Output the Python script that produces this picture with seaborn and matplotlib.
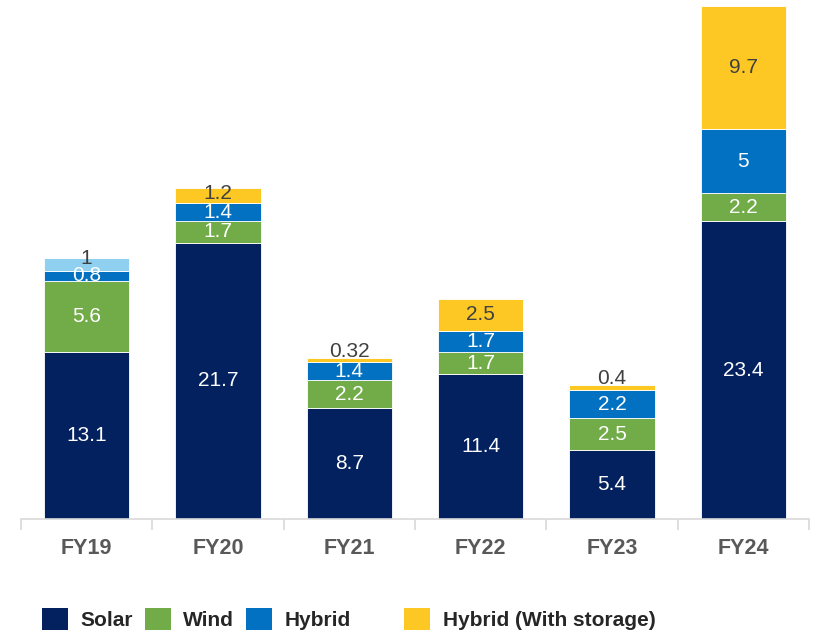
import numpy as np
import pandas as pd
import matplotlib
matplotlib.use("Agg")
import matplotlib.pyplot as plt
from matplotlib.patches import Patch
import seaborn as sns

years = ["FY19", "FY20", "FY21", "FY22", "FY23", "FY24"]
solar = [13.1, 21.7, 8.7, 11.4, 5.4, 23.4]
wind = [5.6, 1.7, 2.2, 1.7, 2.5, 2.2]
hybrid = [0.8, 1.4, 1.4, 1.7, 2.2, 5.0]
others = [1.0, 0, 0, 0, 0, 0]
storage = [0, 1.2, 0.32, 2.5, 0.4, 9.7]

series = [
    ("Solar", solar, "#03215F", "white"),
    ("Wind", wind, "#71AC48", "white"),
    ("Hybrid", hybrid, "#0271C1", "white"),
    ("Others", others, "#8FD0F0", "#404040"),
    ("Hybrid (With storage)", storage, "#FEC824", "#404040"),
]

sns.set_theme(style="white")
plt.rcParams["font.family"] = ["Liberation Sans", "DejaVu Sans"]

fig = plt.figure(figsize=(8.13, 6.35), dpi=100)
ax = fig.add_axes([21 / 813, 1 - 519 / 635, (809 - 21) / 813, 513 / 635])

totals = np.sum([s[1] for s in series], axis=0)
bottom = np.zeros(len(years))
for name, vals, col, txtcol in series:
    df = pd.DataFrame({"year": years, "value": vals})
    sns.barplot(data=df, x="year", y="value", color=col, width=0.65,
                bottom=bottom, edgecolor="white", linewidth=0.6,
                saturation=1, ax=ax)
    for i, v in enumerate(vals):
        if v <= 0:
            continue
        top = bottom[i] + v
        is_last = np.isclose(top, totals[i])
        tc = txtcol
        if is_last and v < 0.9:
            # thin top slices get their label just above the bar
            y = top + 0.5
            tc = "#404040"
        elif is_last and v <= 1.0:
            y = top - 0.05
        elif is_last and v < 1.5:
            y = bottom[i] + v / 2 + 0.2
        else:
            y = bottom[i] + v / 2
        ax.text(i, y, f"{v:g}", ha="center", va="center", fontsize=15,
                color=tc)
    bottom = bottom + np.array(vals)

ax.set_xlim(-0.5, 5.5)
ax.set_ylim(0, 40.3)
ax.set_xlabel("")
ax.set_ylabel("")
ax.set_yticks([])
for s in ["top", "right", "left"]:
    ax.spines[s].set_visible(False)
ax.spines["bottom"].set_color("#D9D9D9")
ax.spines["bottom"].set_linewidth(1.2)
ax.set_xticks(np.arange(-0.5, 6, 1), minor=True)
ax.tick_params(axis="x", which="minor", length=8, color="#D9D9D9",
               width=1.2, bottom=True)
ax.tick_params(axis="x", which="major", length=0, pad=14)
for lbl in ax.get_xticklabels():
    lbl.set_fontweight("bold")
    lbl.set_fontsize(15.5)
    lbl.set_color("#595959")

leg_font = {"family": ["Liberation Sans", "DejaVu Sans"], "weight": "bold",
            "size": 15}
h1 = [Patch(facecolor=c, edgecolor="none") for _, _, c, _ in
      [series[0], series[1], series[2]]]
fig.legend(h1, ["Solar", "Wind", "Hybrid"], loc="center left",
           bbox_to_anchor=(0.029, 0.025), ncol=3, frameon=False,
           prop=leg_font, handlelength=1.25, handleheight=1.25,
           handletextpad=0.6, columnspacing=0.55, labelcolor="#262626")
h2 = [Patch(facecolor=series[4][2], edgecolor="none")]
fig.legend(h2, ["Hybrid (With storage)"], loc="center left",
           bbox_to_anchor=(0.474, 0.025), frameon=False, prop=leg_font,
           handlelength=1.25, handleheight=1.25, handletextpad=0.6,
           labelcolor="#262626")

fig.savefig("out.png", dpi=100)
